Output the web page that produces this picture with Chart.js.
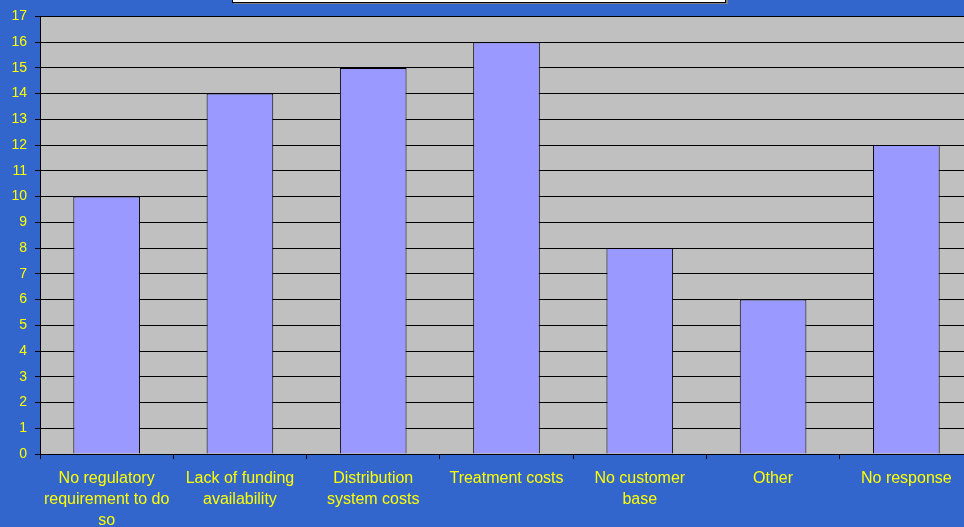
<!DOCTYPE html>
<html lang="en">
<head>
    <meta charset="UTF-8">
    <title>Reasons chart</title>
    <script src="https://cdn.jsdelivr.net/npm/chart.js"></script>
    <style>
      html, body { margin: 0; padding: 0; background: #3366CC; overflow: hidden; }
      #chart { display: block; }
    </style>
</head>
<body>
    <canvas id="chart" width="980" height="527"></canvas>

    <script type="text/javascript" charset="utf-8">
      const categories = [
        ["No regulatory", "requirement to do", "so"],
        ["Lack of funding", "availability"],
        ["Distribution", "system costs"],
        ["Treatment costs"],
        ["No customer", "base"],
        ["Other"],
        ["No response"]
      ];
      const counts = [10, 14, 15, 16, 8, 6, 12];
      const yMax = 17;

      // plot background + the clipped title box at the top
      const backdrop = {
        id: "backdrop",
        beforeDraw(chart) {
          const ctx = chart.ctx;
          const a = chart.chartArea;
          ctx.save();
          ctx.fillStyle = "#C0C0C0";
          ctx.fillRect(a.left, a.top, a.right - a.left, a.bottom - a.top);
          ctx.restore();
        },
        afterDraw(chart) {
          const ctx = chart.ctx;
          ctx.save();
          ctx.fillStyle = "#808080";
          ctx.fillRect(234, -10, 494, 14);
          ctx.fillStyle = "#FFFFFF";
          ctx.fillRect(232, -10, 494, 13);
          ctx.strokeStyle = "#000000";
          ctx.lineWidth = 1;
          ctx.strokeRect(232.5, -10, 493, 12.5);
          ctx.restore();
        }
      };

      const ctx = document.getElementById("chart").getContext("2d");
      const myChart = new Chart(ctx, {
        type: "bar",
        data: {
          labels: categories,
          datasets: [{
            data: counts,
            backgroundColor: "#9999FF",
            borderColor: "#000000",
            borderWidth: 1,
            categoryPercentage: 1.0,
            barPercentage: 0.5
          }]
        },
        options: {
          responsive: false,
          devicePixelRatio: 1,
          animation: false,
          layout: { padding: { top: 16, right: 7, left: 0, bottom: 0 } },
          plugins: {
            legend: { display: false },
            tooltip: { enabled: false }
          },
          scales: {
            x: {
              offset: true,
              grid: {
                offset: true,
                drawOnChartArea: false,
                color: "#000000",
                tickLength: 5,
                tickColor: "#000000"
              },
              border: { color: "#000000", width: 1 },
              ticks: {
                color: "#FFFF00",
                font: { family: "Liberation Sans", size: 16, lineHeight: 1.32 },
                padding: 9,
                maxRotation: 0,
                autoSkip: false
              },
              afterFit(scale) { scale.height = 73; }
            },
            y: {
              min: 0,
              max: yMax,
              grid: {
                color: "#000000",
                tickLength: 5,
                tickColor: "#000000"
              },
              border: { color: "#000000", width: 1 },
              ticks: {
                stepSize: 1,
                color: "#FFFF00",
                font: { family: "Liberation Sans", size: 14 },
                padding: 8
              },
              afterFit(scale) { scale.width = 40; }
            }
          }
        },
        plugins: [backdrop]
      });
    </script>
</body>
</html>
